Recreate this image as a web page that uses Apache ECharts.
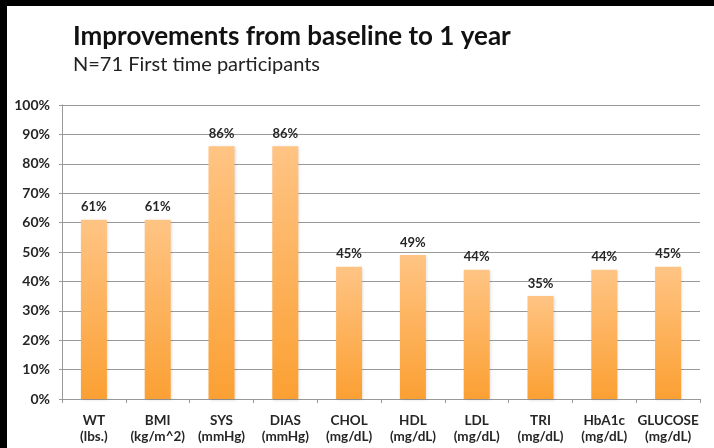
<!DOCTYPE html>
<html>
<head>
<meta charset="utf-8">
<script src="https://cdn.jsdelivr.net/npm/echarts@6/dist/echarts.min.js"></script>
<style>
  html, body { margin: 0; padding: 0; background: #fff; }
  #chart { width: 714px; height: 448px; }
</style>
</head>
<body>
<div id="chart"></div>
<script>
// Share of first-time participants improving on each measure
const categories = ['WT\n(lbs.)', 'BMI\n(kg/m^2)', 'SYS\n(mmHg)', 'DIAS\n(mmHg)', 'CHOL\n(mg/dL)',
  'HDL\n(mg/dL)', 'LDL\n(mg/dL)', 'TRI\n(mg/dL)', 'HbA1c\n(mg/dL)', 'GLUCOSE\n(mg/dL)'];
const improvedPct = [61, 61, 86, 86, 45, 49, 44, 35, 44, 45];

const FONT = 'Lato, "Open Sans", sans-serif';

const chart = echarts.init(document.getElementById('chart'), null, { renderer: 'canvas' });
chart.setOption({
  backgroundColor: '#ffffff',
  animation: false,
  title: {
    text: 'Improvements from baseline to 1 year',
    subtext: 'N=71 First time participants',
    left: 68,
    top: 19,
    itemGap: 5,
    textStyle: { fontFamily: FONT, fontSize: 26, fontWeight: 'bold', color: '#111' },
    subtextStyle: { fontFamily: FONT, fontSize: 20, color: '#222' }
  },
  graphic: [
    { type: 'rect', left: 0, top: 0, shape: { width: 714, height: 6 }, style: { fill: '#000' }, z: 10 },
    { type: 'rect', left: 0, top: 0, shape: { width: 7, height: 448 }, style: { fill: '#000' }, z: 10 }
  ],
  grid: { left: 62, right: 14, top: 105, bottom: 49 },
  xAxis: {
    type: 'category',
    data: categories,
    axisLine: { lineStyle: { color: '#999', width: 1 } },
    axisTick: { show: true, length: 4, alignWithLabel: false, lineStyle: { color: '#999' } },
    axisLabel: {
      interval: 0, margin: 14, color: '#262626', fontFamily: FONT, fontSize: 13.5,
      fontWeight: 'bold', lineHeight: 16
    }
  },
  yAxis: {
    type: 'value',
    min: 0,
    max: 100,
    interval: 10,
    axisLine: { show: true, lineStyle: { color: '#999', width: 1 } },
    axisTick: { show: true, length: 3, lineStyle: { color: '#999' } },
    axisLabel: {
      formatter: '{value}%', margin: 12, color: '#262626', fontFamily: FONT, fontSize: 14,
      fontWeight: 'bold'
    },
    splitLine: { lineStyle: { color: '#999', width: 1 } }
  },
  series: [{
    type: 'bar',
    data: improvedPct,
    barWidth: 26,
    itemStyle: {
      color: new echarts.graphic.LinearGradient(0, 0, 0, 1, [
        { offset: 0, color: '#ffc484' },
        { offset: 1, color: '#fba033' }
      ]),
      shadowColor: 'rgba(0,0,0,0.15)',
      shadowBlur: 3,
      shadowOffsetX: 1,
      shadowOffsetY: 1
    },
    label: {
      show: true,
      position: 'top',
      distance: 6,
      formatter: '{c}%',
      color: '#262626',
      fontFamily: FONT,
      fontSize: 13,
      fontWeight: 'bold'
    }
  }]
});
</script>
</body>
</html>
